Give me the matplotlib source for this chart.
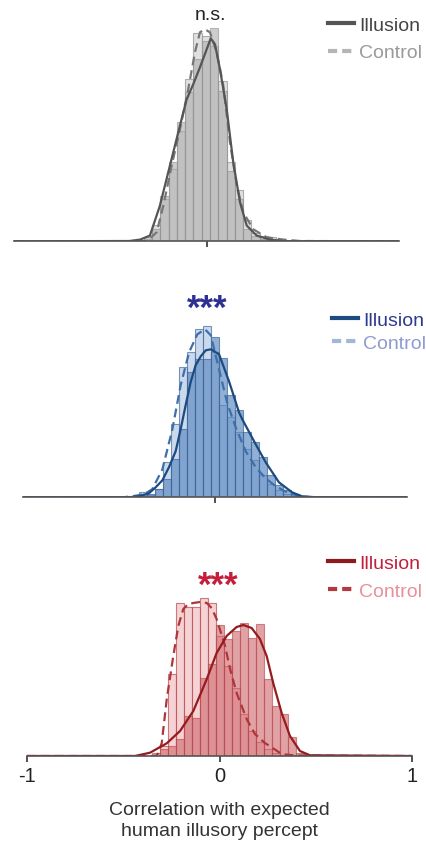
import matplotlib
matplotlib.use("Agg")
import matplotlib.pyplot as plt
from matplotlib.lines import Line2D

plt.rcParams.update({
    "font.family": ["Liberation Sans", "DejaVu Sans"],
    "axes.spines.top": False,
    "axes.spines.right": False,
    "axes.spines.left": False,
})

# --- Data (counts per bin, x = correlation) ---
# top panel (grey, n.s.)
TOP_BIN_LEFT = [-0.369, -0.326, -0.283, -0.240, -0.197, -0.154, -0.111, -0.068, -0.025,
                0.018, 0.061, 0.104, 0.147, 0.190, 0.233, 0.276, 0.319, 0.362]
TOP_BIN_W = 0.043
TOP_ILL = [1, 4, 12, 45, 79, 119, 149, 182, 200, 213, 150, 70, 42, 12, 5, 2, 1, 0]
TOP_CTL = [0, 2, 16, 42, 72, 110, 162, 208, 205, 195, 160, 79, 51, 21, 8, 5, 4, 2]
TOP_ILL_KDE_X = [-1, -0.40, -0.345, -0.294, -0.242, -0.190, -0.138, -0.103, -0.069, -0.034,
                 0.001, 0.022, 0.044, 0.070, 0.105, 0.139, 0.174, 0.209, 0.261, 0.330, 0.399, 0.47, 1]
TOP_ILL_KDE_Y = [0, 0.3, 1.7, 5.7, 35.7, 75.7, 115.7, 142, 157, 174,
                 192, 203, 197, 172, 132, 79, 39, 15.7, 5.7, 1.7, 0.3, 0, 0]
TOP_CTL_KDE_X = [-1, -0.311, -0.259, -0.224, -0.181, -0.138, -0.095, -0.060, -0.034, -0.008,
                 0.018, 0.053, 0.087, 0.122, 0.157, 0.191, 0.243, 0.313, 0.399, 0.486, 1]
TOP_CTL_KDE_Y = [0, 0, 9, 35.7, 75.7, 112, 152, 189, 209, 212,
                 209, 189, 156, 99, 56, 29, 12, 4, 1.7, 0.3, 0]

# middle panel (blue, ***)
MID_BIN_LEFT = [-0.436, -0.394, -0.353, -0.311, -0.270, -0.229, -0.187, -0.145, -0.104, -0.063, -0.021,
                0.020, 0.062, 0.103, 0.145, 0.186, 0.228, 0.269, 0.311, 0.353, 0.394, 0.435]
MID_BIN_W = 0.0415
MID_ILL = [1, 3, 3, 8, 18, 38, 68, 125, 138, 138, 160, 139, 102, 87, 65, 55, 40, 22, 12, 7, 3, 1]
MID_CTL = [1, 5, 2, 8, 35, 73, 130, 145, 168, 171, 145, 92, 80, 65, 48, 37, 22, 13, 7, 3, 1, 0]
MID_ILL_KDE_X = [-1, -0.45, -0.396, -0.344, -0.309, -0.274, -0.240, -0.205, -0.179, -0.153, -0.127,
                 -0.101, -0.074, -0.048, -0.021, 0.021, 0.073, 0.125, 0.142, 0.212, 0.264, 0.333,
                 0.401, 0.453, 0.516, 1]
MID_ILL_KDE_Y = [0, 0, 1, 4, 10, 17, 30, 46, 68, 92, 115,
                 132, 141, 147, 148, 143, 116, 85, 78, 53, 35, 15,
                 5, 1, 0, 0]
MID_CTL_KDE_X = [-1, -0.48, -0.432, -0.370, -0.327, -0.274, -0.222, -0.179, -0.135, -0.092, -0.052,
                 -0.022, 0.021, 0.064, 0.108, 0.160, 0.212, 0.264, 0.316, 0.385, 0.455, 0.542, 1]
MID_CTL_KDE_Y = [0, 0, 1, 3, 8, 28, 68, 112, 145, 163, 168,
                 162, 128, 94, 70, 46, 30, 19, 11, 4, 0.7, 0, 0]

# bottom panel (red, ***)
BOT_BIN_LEFT = [-0.350, -0.309, -0.267, -0.226, -0.184, -0.143, -0.102, -0.060, -0.019,
                0.023, 0.064, 0.105, 0.147, 0.188, 0.230, 0.271, 0.312, 0.354, 0.395]
BOT_BIN_W = 0.0414
BOT_ILL = [3, 7, 10, 17, 40, 38, 78, 92, 131, 117, 125, 133, 118, 132, 77, 50, 42, 19, 3]
BOT_CTL = [0, 10, 82, 153, 149, 149, 158, 153, 120, 90, 68, 42, 25, 14, 7, 3, 1, 0, 0]
BOT_ILL_KDE_X = [-1, -0.439, -0.361, -0.274, -0.205, -0.136, -0.066, -0.015, 0.037, 0.089,
                 0.124, 0.167, 0.210, 0.245, 0.279, 0.323, 0.366, 0.418, 0.470, 1]
BOT_ILL_KDE_Y = [0, 0, 3.3, 12.7, 25, 45, 77, 103, 120, 129,
                 131, 128, 117, 100, 73, 43, 20, 5, 0.7, 0]
BOT_CTL_KDE_X = [-1, -0.330, -0.318, -0.300, -0.274, -0.240, -0.214, -0.188, -0.162, -0.136,
                 -0.101, -0.066, -0.041, -0.015, 0.029, 0.055, 0.089, 0.141, 0.184, 0.236,
                 0.323, 0.392, 1]
BOT_CTL_KDE_Y = [0, 0, 3, 13, 57, 100, 130, 147, 152, 153,
                 154, 153, 148, 137, 110, 87, 63, 37, 22, 13,
                 2, 0.5, 0]

LABELS = ["Illusion", "Control"]


def draw_panel(ax, lefts, width, ill, ctl, ill_kx, ill_ky, ctl_kx, ctl_ky, st, ymax):
    ax.bar(lefts, ctl, width=width, align="edge", color=st["ctl_bar"], alpha=st["ctl_alpha"],
           edgecolor=st["edge"], linewidth=0.8)
    ax.bar(lefts, ill, width=width, align="edge", color=st["ill_bar"], alpha=st["ill_alpha"],
           edgecolor=st["edge"], linewidth=0.8)
    ax.plot(ctl_kx, ctl_ky, color=st["ctl_line"], lw=1.6, linestyle=(0, (4, 2.2)))
    ax.plot(ill_kx, ill_ky, color=st["ill_line"], lw=1.6)
    ax.set_xlim(-1, 1)
    ax.set_ylim(0, ymax)
    ax.set_yticks([])
    ax.patch.set_alpha(0)
    ax.spines["bottom"].set_color("#555555")
    ax.spines["bottom"].set_linewidth(1.2)
    ax.tick_params(axis="x", length=4, width=1.2, color="#333333",
                   labelsize=14.5, labelcolor="#222222", pad=3)


fig = plt.figure(figsize=(4.26, 8.45), dpi=100)
H = 845.0
W = 426.0

grey = dict(ctl_bar="#d4d4d4", ctl_alpha=0.7, ill_bar="#adadad", ill_alpha=0.6,
            edge="#919191", ctl_line="#777777", ill_line="#555555")
blue = dict(ctl_bar="#b0c6e3", ctl_alpha=0.65, ill_bar="#5e8bc2", ill_alpha=0.68,
            edge="#3a6498", ctl_line="#3f6fa8", ill_line="#1d4a80")
red = dict(ctl_bar="#f1c0c2", ctl_alpha=0.7, ill_bar="#cf6a6e", ill_alpha=0.62,
           edge="#b8474c", ctl_line="#b0353b", ill_line="#951b20")

ax1 = fig.add_axes([14 / W, 1 - 242.3 / H, 385 / W, 240 / H])
draw_panel(ax1, TOP_BIN_LEFT, TOP_BIN_W, TOP_ILL, TOP_CTL,
           TOP_ILL_KDE_X, TOP_ILL_KDE_Y, TOP_CTL_KDE_X, TOP_CTL_KDE_Y, grey, 240)
ax1.set_xticks([0])
ax1.set_xticklabels([])

ax2 = fig.add_axes([23 / W, 1 - 498.3 / H, 384 / W, 200 / H])
draw_panel(ax2, MID_BIN_LEFT, MID_BIN_W, MID_ILL, MID_CTL,
           MID_ILL_KDE_X, MID_ILL_KDE_Y, MID_CTL_KDE_X, MID_CTL_KDE_Y, blue, 200)
ax2.set_xticks([0])
ax2.set_xticklabels([])

ax3 = fig.add_axes([27 / W, 1 - 757 / H, 385 / W, 200 / H])
draw_panel(ax3, BOT_BIN_LEFT, BOT_BIN_W, BOT_ILL, BOT_CTL,
           BOT_ILL_KDE_X, BOT_ILL_KDE_Y, BOT_CTL_KDE_X, BOT_CTL_KDE_Y, red, 200)
ax3.set_xticks([-1, 0, 1])
ax3.set_xticklabels(["-1", "0", "1"])

# legends
def add_legend(x_px, top_px, colors, text_colors, spacing):
    handles = [Line2D([], [], color=colors[0], lw=3),
               Line2D([], [], color=colors[1], lw=3, linestyle=(0, (2.2, 1.2)))]
    fig.legend(handles, LABELS, loc="upper left", bbox_to_anchor=(x_px / W, 1 - top_px / H),
               frameon=False, fontsize=14, handlelength=1.35, handletextpad=0.25,
               labelspacing=spacing, borderpad=0, borderaxespad=0, labelcolor=text_colors)

add_legend(328, 17, ["#555555", "#b5b5b5"], ["#444444", "#9a9a9a"], 0.52)
add_legend(332, 312, ["#1d4a80", "#9fb7d8"], ["#2e3a8f", "#8f9bd0"], 0.3)
add_legend(328, 555, ["#8f1a1e", "#b23a3f"], ["#c41e3a", "#ea8f9a"], 0.56)

# significance marks
fig.text(210 / W, 1 - 15 / H, "n.s.", ha="center", va="center", fontsize=14, color="#222222")
fig.text(207.5 / W, 1 - 309 / H, "***", ha="center", va="center", fontsize=25,
         fontweight="bold", color="#2e3192")
fig.text(218.5 / W, 1 - 586 / H, "***", ha="center", va="center", fontsize=25,
         fontweight="bold", color="#c41e3a")

fig.text(219.5 / W, 1 - 821 / H, "Correlation with expected\nhuman illusory percept",
         ha="center", va="center", fontsize=14, color="#333333", linespacing=1.3)

fig.savefig("out.png", dpi=100)
plt.close(fig)
